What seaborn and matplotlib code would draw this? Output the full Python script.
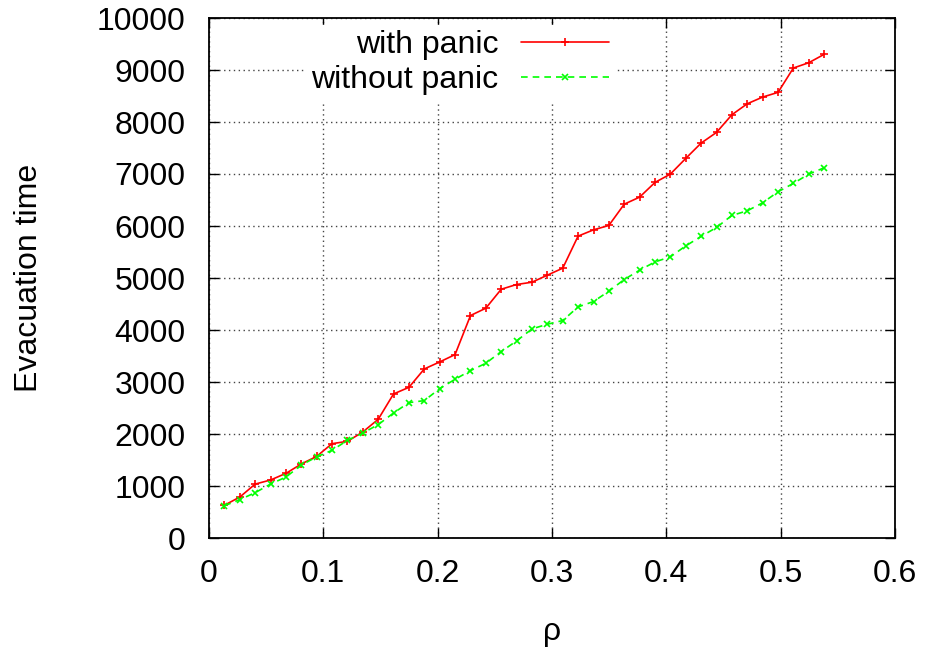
import matplotlib
matplotlib.use("Agg")
import matplotlib.pyplot as plt
import seaborn as sns
import pandas as pd

rho = [0.0135, 0.0269, 0.0404, 0.0538, 0.0673, 0.0807, 0.0942, 0.1076, 0.1211, 0.1345,
       0.1480, 0.1614, 0.1749, 0.1883, 0.2018, 0.2152, 0.2287, 0.2421, 0.2556, 0.2690,
       0.2825, 0.2959, 0.3094, 0.3228, 0.3363, 0.3497, 0.3632, 0.3766, 0.3901, 0.4035,
       0.4170, 0.4304, 0.4439, 0.4573, 0.4708, 0.4842, 0.4977, 0.5111, 0.5246, 0.5380]

with_panic = [630, 787, 1037, 1115, 1243, 1423, 1570, 1814, 1859, 2039,
              2283, 2770, 2898, 3251, 3386, 3527, 4278, 4419, 4784, 4875,
              4919, 5054, 5189, 5805, 5926, 6010, 6420, 6555, 6838, 6998,
              7300, 7594, 7800, 8139, 8351, 8479, 8570, 9038, 9140, 9301]

without_panic = [621, 737, 872, 1037, 1172, 1403, 1560, 1686, 1878, 2019,
                 2180, 2404, 2604, 2642, 2873, 3052, 3219, 3360, 3585, 3790,
                 4021, 4111, 4182, 4444, 4547, 4746, 4971, 5150, 5310, 5406,
                 5618, 5799, 5972, 6203, 6292, 6446, 6658, 6819, 6998, 7119]

series_names = ["with panic", "without panic"]
x_ticks = [0, 0.1, 0.2, 0.3, 0.4, 0.5, 0.6]
y_ticks = [0, 1000, 2000, 3000, 4000, 5000, 6000, 7000, 8000, 9000, 10000]

sns.set_theme(style="white")
plt.rcParams["font.family"] = ["Liberation Sans", "DejaVu Sans"]
plt.rcParams["text.color"] = "black"
plt.rcParams["axes.labelcolor"] = "black"

fig = plt.figure(figsize=(9.27, 6.48), dpi=100)
ax = fig.add_axes([209 / 927, 1 - 538 / 648, 686 / 927, 520 / 648])

df1 = pd.DataFrame({"rho": rho, "t": with_panic})
df2 = pd.DataFrame({"rho": rho, "t": without_panic})

sns.lineplot(data=df1, x="rho", y="t", ax=ax, color="#ff0000", lw=1.2,
             marker="+", markersize=6, markeredgewidth=1.2, markeredgecolor="#ff0000",
             label=series_names[0], zorder=3)
sns.lineplot(data=df2, x="rho", y="t", ax=ax, color="#00ff00", lw=1.2,
             linestyle=(0, (4, 3)),
             marker="x", markersize=5, markeredgewidth=1.2, markeredgecolor="#00ff00",
             label=series_names[1], zorder=3)

ax.set_xlim(0, 0.6)
ax.set_ylim(0, 10000)
ax.set_xticks(x_ticks)
ax.set_xticklabels([f"{v:g}" for v in x_ticks])
ax.set_yticks(y_ticks)
ax.set_yticklabels([str(v) for v in y_ticks])

ax.grid(True, color="#444444", linestyle=(0, (1, 2.5)), linewidth=1.0)
ax.set_axisbelow(True)
for s in ax.spines.values():
    s.set_color("black")
    s.set_linewidth(1.3)
    s.set_visible(True)

ax.tick_params(axis="both", which="major", direction="in", length=7.5, width=1.0,
               color="black", top=True, right=True, bottom=True, left=True,
               labelsize=23, labelcolor="black")
ax.tick_params(axis="x", pad=15)
ax.tick_params(axis="y", pad=17)

ax.set_xlabel("ρ", fontsize=23, color="black", labelpad=20)
ax.set_ylabel("Evacuation time", fontsize=23, color="black")
ax.yaxis.set_label_coords(-0.24, 0.5)

leg = ax.legend(loc="upper right", bbox_to_anchor=(0.59, 0.986), frameon=True,
                markerfirst=False, fontsize=23, handlelength=2.75, handletextpad=0.72,
                labelspacing=0.15, borderpad=0.15, borderaxespad=0.0, fancybox=False)
leg.get_frame().set_facecolor("white")
leg.get_frame().set_edgecolor("white")
leg.get_frame().set_alpha(1.0)
for t in leg.get_texts():
    t.set_ha("right")
    t.set_color("black")
leg.set_zorder(2.5)

fig.savefig("out.png", dpi=100, facecolor="white")
